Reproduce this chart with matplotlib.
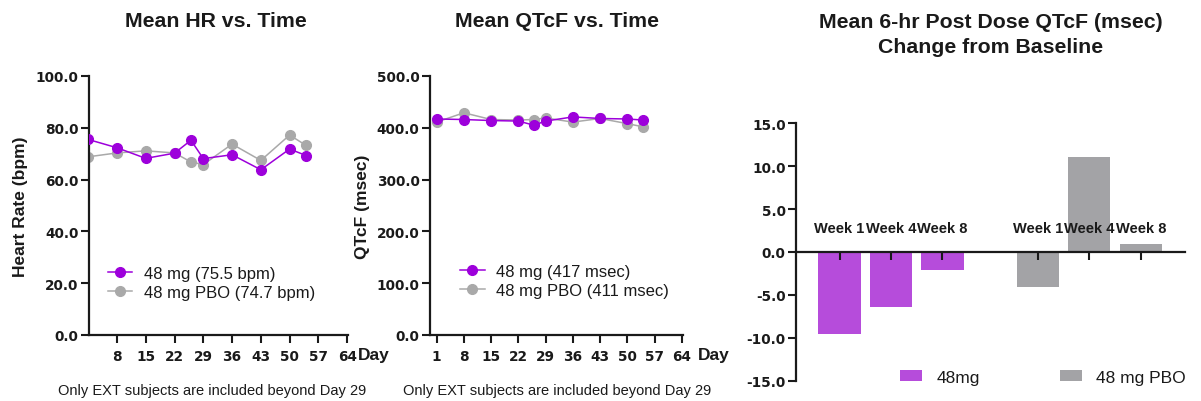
import numpy as np
import matplotlib
matplotlib.use('Agg')
import matplotlib.pyplot as plt

plt.rcParams['font.family'] = ['Liberation Sans', 'DejaVu Sans']
plt.rcParams['axes.unicode_minus'] = False

# 数据
days = [1, 8, 15, 22, 26, 29, 36, 43, 50, 54]
hr_48mg = [75.5, 72.3, 68.2, 70.2, 75.2, 68.1, 69.6, 63.8, 71.8, 69.3]
hr_pbo = [68.8, 70.3, 71.1, 70.3, 66.8, 65.8, 73.7, 67.4, 77.2, 73.2]
qtcf_48mg = [417, 416, 414, 413, 405, 413, 421, 418, 417, 415]
qtcf_pbo = [411, 429, 416, 415, 416, 419, 411, 418, 408, 402]
hr_labels = ['48 mg (75.5 bpm)', '48 mg PBO (74.7 bpm)']
qtcf_labels = ['48 mg (417 msec)', '48 mg PBO (411 msec)']
day_ticks = [1, 8, 15, 22, 29, 36, 43, 50, 57, 64]

weeks = ['Week 1', 'Week 4', 'Week 8']
chg_48mg = [-9.5, -6.4, -2.1]
chg_pbo = [-4.1, 11.1, 0.9]
bar_labels = ['48mg', '48 mg PBO']

PURPLE = '#9D00DB'
GRAY = '#A9A9A9'
BAR_PURPLE = '#B64CDB'
BAR_GRAY = '#A3A3A6'
TXT = '#1a1a1a'
TICKFONT = dict(family='DejaVu Sans', weight='bold', size=9.8)

fig = plt.figure(figsize=(12.01, 4.02), dpi=100)
W, H = 1201, 402


def px_axes(l, r, t, b):
    return fig.add_axes([l / W, (H - b) / H, (r - l) / W, (b - t) / H])


def style_line_axes(ax):
    for s in ['top', 'right']:
        ax.spines[s].set_visible(False)
    for s in ['left', 'bottom']:
        ax.spines[s].set_linewidth(1.6)
        ax.spines[s].set_color(TXT)
    ax.tick_params(axis='both', width=1.5, length=6, color=TXT, labelcolor=TXT)
    ax.tick_params(axis='y', pad=1.5)
    ax.tick_params(axis='x', pad=4)
    for lab in ax.get_xticklabels() + ax.get_yticklabels():
        lab.set_fontproperties(TICKFONT)


# 心率
ax1 = px_axes(89, 348, 77, 336)
ax1.plot(days, hr_48mg, '-o', color=PURPLE, lw=1.1, ms=7, zorder=3, label=hr_labels[0])
ax1.plot(days, hr_pbo, '-o', color=GRAY, lw=1.1, ms=7, zorder=2, label=hr_labels[1])
ax1.set_xlim(1.2, 64.2)
ax1.set_ylim(0, 100)
ax1.set_xticks(day_ticks[1:])
ax1.set_yticks(np.arange(0, 101, 20))
ax1.set_yticklabels(['%.1f' % v for v in np.arange(0, 101, 20)])
style_line_axes(ax1)
ax1.set_ylabel('Heart Rate (bpm)', fontsize=12.5, fontweight='bold', color=TXT)
ax1.yaxis.set_label_coords(-0.235, 0.5)
ax1.legend(loc='center left', bbox_to_anchor=(0.074, 0.2), frameon=False,
           fontsize=12, handlelength=1.45, handletextpad=0.7, labelspacing=0.25,
           borderpad=0, borderaxespad=0, labelcolor=TXT)
ax1.text((358 - 89) / 259, -0.075, 'Day', transform=ax1.transAxes, ha='left', va='center',
         fontsize=12.5, fontweight='bold', color=TXT)

# QTcF
ax2 = px_axes(430, 683, 77, 336)
ax2.plot(days, qtcf_48mg, '-o', color=PURPLE, lw=1.1, ms=7, zorder=3, label=qtcf_labels[0])
ax2.plot(days, qtcf_pbo, '-o', color=GRAY, lw=1.1, ms=7, zorder=2, label=qtcf_labels[1])
ax2.set_xlim(-0.7, 64.3)
ax2.set_ylim(0, 500)
ax2.set_xticks(day_ticks)
ax2.set_yticks(np.arange(0, 501, 100))
ax2.set_yticklabels(['%.1f' % v for v in np.arange(0, 501, 100)])
style_line_axes(ax2)
ax2.set_ylabel('QTcF (msec)', fontsize=12.5, fontweight='bold', color=TXT)
ax2.yaxis.set_label_coords(-0.237, 0.5)
ax2.legend(loc='center left', bbox_to_anchor=(0.12, 0.21), frameon=False,
           fontsize=12, handlelength=1.45, handletextpad=0.7, labelspacing=0.25,
           borderpad=0, borderaxespad=0, labelcolor=TXT)
ax2.text((698 - 430) / 253, -0.075, 'Day', transform=ax2.transAxes, ha='left', va='center',
         fontsize=12.5, fontweight='bold', color=TXT)

for cx in [212, 557]:
    fig.text(cx / W, (H - 391) / H, 'Only EXT subjects are included beyond Day 29',
             ha='center', va='center', fontsize=10.5, color=TXT)

# 柱状图
ax3 = px_axes(796, 1185, 124.3, 381.7)
gap = 3.85
x48 = np.arange(len(weeks))
xpbo = x48 + gap
ax3.bar(x48, chg_48mg, width=0.82, color=BAR_PURPLE, label=bar_labels[0])
ax3.bar(xpbo, chg_pbo, width=0.82, color=BAR_GRAY, label=bar_labels[1])
ax3.set_xlim(-0.845, 6.71)
ax3.set_ylim(-15, 15)
ax3.set_yticks(np.arange(-15, 16, 5))
ax3.set_yticklabels(['%.1f' % v for v in np.arange(-15, 16, 5)])
ax3.set_xticks(list(x48) + list(xpbo))
ax3.set_xticklabels([])
for s in ['top', 'right']:
    ax3.spines[s].set_visible(False)
ax3.spines['bottom'].set_position(('data', 0))
for s in ['left', 'bottom']:
    ax3.spines[s].set_linewidth(1.6)
    ax3.spines[s].set_color(TXT)
ax3.tick_params(axis='both', width=1.5, length=6, color=TXT, labelcolor=TXT)
ax3.tick_params(axis='y', pad=1.5)
for lab in ax3.get_yticklabels():
    lab.set_fontproperties(TICKFONT)
for xs in [x48, xpbo]:
    for x, w in zip(xs, weeks):
        ax3.text(x, 2.76, w, ha='center', va='center', fontsize=10.5,
                 fontweight='bold', color=TXT)
ax3.legend(loc='center left', bbox_to_anchor=(0.267, 0.014), ncol=2, frameon=False,
           fontsize=12.5, handlelength=1.3, handleheight=0.6, handletextpad=0.8,
           columnspacing=4.6, borderpad=0, borderaxespad=0, labelcolor=TXT)

fig.text(216 / W, (H - 27) / H, 'Mean HR vs. Time', ha='center', va='baseline',
         fontsize=15.3, fontweight='bold', color=TXT)
fig.text(557 / W, (H - 27) / H, 'Mean QTcF vs. Time', ha='center', va='baseline',
         fontsize=15.3, fontweight='bold', color=TXT)
fig.text(991 / W, (H - 28) / H, 'Mean 6-hr Post Dose QTcF (msec)', ha='center',
         va='baseline', fontsize=15.3, fontweight='bold', color=TXT)
fig.text(991 / W, (H - 53) / H, 'Change from Baseline', ha='center',
         va='baseline', fontsize=15.3, fontweight='bold', color=TXT)

plt.savefig('out.png', dpi=100)
plt.close()
